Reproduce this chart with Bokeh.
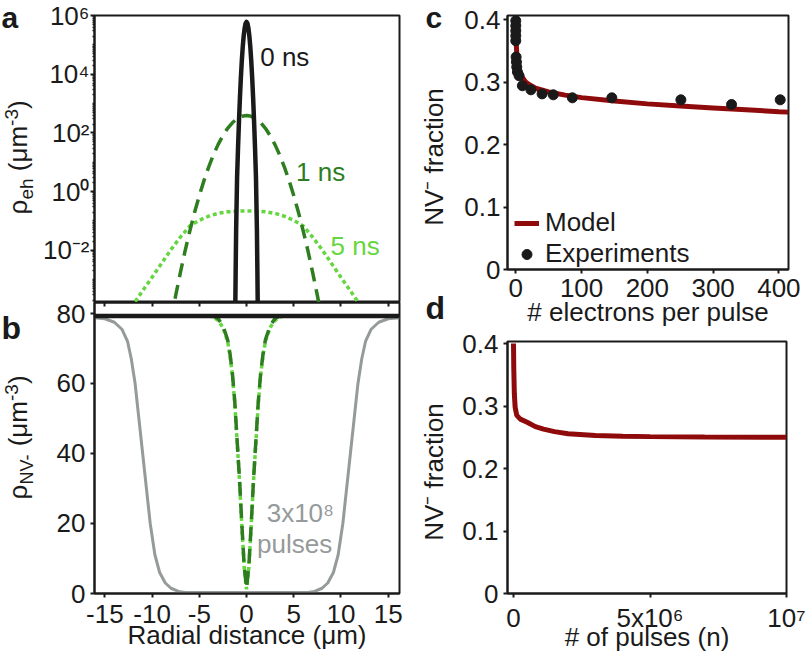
import math
from bokeh.plotting import figure
from bokeh.models import Range1d, FixedTicker, Label, Legend, LegendItem, LinearAxis
from bokeh.layouts import row, column
from bokeh.embed import file_html
from bokeh.resources import INLINE
from bokeh.core.properties import value

FONT = "Liberation Sans"
INK = "#1a1a1a"
DARK_GREEN = "#2e7d1f"
LIGHT_GREEN = "#66d640"
GREY = "#959a9a"
RED = "#8f0b0b"
PAGE_H = 656

# ---------------- data ----------------
# panel a : electron-hole density (log scale)
A_X_0NS = [-1.3, -1.2, -1.15, -1.1, -1.0, -0.9, -0.8, -0.7, -0.6, -0.5, -0.4, -0.3, -0.2, -0.1, 0.0,
           0.1, 0.2, 0.3, 0.4, 0.5, 0.6, 0.7, 0.8, 0.9, 1.0, 1.1, 1.15, 1.2, 1.3]
A_Y_0NS = [1.0e-7, 5.0e-5, 2.0e-3, 0.05, 3.02, 30.7, 244, 1.52e3, 7.45e3, 2.85e4, 8.55e4, 2.01e5, 3.70e5, 5.33e5, 6.03e5,
           5.33e5, 3.70e5, 2.01e5, 8.55e4, 2.85e4, 7.45e3, 1.52e3, 244, 30.7, 3.02, 0.05, 2.0e-3, 5.0e-5, 1.0e-7]
A_X_1NS = [-8.0, -7.5, -7.0, -6.5, -6.0, -5.5, -5.0, -4.5, -4.0, -3.5, -3.0, -2.5, -2.0, -1.5, -1.0, -0.5, 0.0,
           0.5, 1.0, 1.5, 2.0, 2.5, 3.0, 3.5, 4.0, 4.5, 5.0, 5.5, 6.0, 6.5, 7.0, 7.5, 8.0]
A_Y_1NS = [4.1e-5, 2.9e-4, 1.77e-3, 9.7e-3, 0.046, 0.196, 0.73, 2.41, 7.0, 18.0, 40.6, 81, 143, 221, 303, 366, 389,
           366, 303, 221, 143, 81, 40.6, 18.0, 7.0, 2.41, 0.73, 0.196, 0.046, 9.7e-3, 1.77e-3, 2.9e-4, 4.1e-5]
A_X_5NS = [-13, -12, -11, -10, -9, -8, -7, -6, -5, -4, -3, -2, -1, 0, 1, 2, 3, 4, 5, 6, 7, 8, 9, 10, 11, 12, 13]
A_Y_5NS = [4.47e-5, 1.41e-4, 4.17e-4, 1.20e-3, 3.55e-3, 0.0105, 0.0282, 0.0676, 0.105, 0.145, 0.182, 0.204, 0.214, 0.219,
           0.214, 0.204, 0.182, 0.145, 0.105, 0.0676, 0.0282, 0.0105, 3.55e-3, 1.20e-3, 4.17e-4, 1.41e-4, 4.47e-5]
A_YTICKS = [1e-2, 1.0, 1e2, 1e4, 1e6]
A_YLABELS = ["10\u207b\u00b2", "10\u2070", "10\u00b2", "10\u2074", "10\u2076"]
A_MINOR = [k * 10.0 ** n for n in range(-4, 6) for k in (2, 3, 4, 5, 6, 7, 8, 9)] + [1e-3, 1e-1, 1e1, 1e3, 1e5]

# panel b : NV- density
B_X_0NS = [-16.1, 16.2]
B_Y_0NS = [79.3, 79.3]
B_X_DIP = [-4.0, -3.5, -3.0, -2.5, -2.0, -1.75, -1.5, -1.25, -1.0, -0.75, -0.5, -0.25, 0.0,
           0.25, 0.5, 0.75, 1.0, 1.25, 1.5, 1.75, 2.0, 2.5, 3.0, 3.5, 4.0]
B_Y_1NS = [79.3, 79.2, 78.5, 76.5, 72.5, 68.5, 63.0, 55.0, 44.0, 33.0, 20.0, 8.0, 1.5,
           8.0, 20.0, 33.0, 44.0, 55.0, 63.0, 68.5, 72.5, 76.5, 78.5, 79.2, 79.3]
B_Y_5NS = [79.3, 79.0, 78.0, 76.0, 72.0, 68.0, 62.5, 54.5, 43.5, 32.5, 19.5, 7.5, 1.2,
           7.5, 19.5, 32.5, 43.5, 54.5, 62.5, 68.0, 72.0, 76.0, 78.0, 79.0, 79.3]
B_X_PULSES = [-16.1, -15, -14, -13.2, -12.6, -12.2, -11.8, -11.4, -11, -10.6, -10.2, -9.7, -9.2, -8.6, -8, -7.2, -6.5, -5,
              0, 5, 6.5, 7.2, 8, 8.6, 9.2, 9.7, 10.2, 10.6, 11, 11.4, 11.8, 12.2, 12.6, 13.2, 14, 15, 16.2]
B_Y_PULSES = [78.8, 78.5, 77.5, 75.5, 72, 67, 60, 50, 40, 30, 20, 11, 6, 3, 1.5, 0.6, 0.3, 0.3,
              0.3, 0.3, 0.3, 0.6, 1.5, 3, 6, 11, 20, 30, 40, 50, 60, 67, 72, 75.5, 77.5, 78.5, 78.8]
B_XTICKS = [-15, -10, -5, 0, 5, 10, 15]
B_XLABELS = ["-15", "-10", "-5", "0", "5", "10", "15"]
B_YTICKS = [0, 20, 40, 60, 80]

# panel c : NV- fraction vs electrons per pulse
C_MODEL_X = [0, 0.5, 1, 2, 3, 5, 8, 10, 15, 20, 30, 50, 75, 100, 150, 200, 250, 300, 350, 400, 414]
C_MODEL_Y = [0.405, 0.375, 0.355, 0.337, 0.328, 0.319, 0.311, 0.307, 0.300, 0.296, 0.290, 0.284, 0.279, 0.275,
             0.2695, 0.265, 0.2615, 0.2585, 0.2555, 0.2525, 0.2518]
C_EXP_X = [0, 0, 0, 0, 0, 0.5, 1, 1.5, 2.5, 5, 10, 23, 40, 57, 86, 146, 251, 328, 402]
C_EXP_Y = [0.398, 0.390, 0.382, 0.374, 0.366, 0.340, 0.332, 0.324, 0.316, 0.310, 0.294, 0.2875, 0.281, 0.2795,
           0.2747, 0.2747, 0.2715, 0.264, 0.2715]
C_XTICKS = [0, 100, 200, 300, 400]
FRAC_TICKS = [0, 0.1, 0.2, 0.3, 0.4]
FRAC_LABELS = ["0", "0.1", "0.2", "0.3", "0.4"]

# panel d : NV- fraction vs number of pulses
D_X = [0, 1e4, 3e4, 6e4, 1.2e5, 2.5e5, 5e5, 8e5, 1.1e6, 1.5e6, 2e6, 3e6, 4e6, 5e6, 7e6, 1e7]
D_Y = [0.40, 0.36, 0.32, 0.298, 0.285, 0.279, 0.274, 0.267, 0.263, 0.259, 0.2555, 0.2527, 0.2515, 0.251, 0.2503, 0.250]
D_XTICKS = [0, 5e6, 1e7]
D_XLABELS = ["0", "5x10\u2076", "10\u2077"]

# ---------------- helpers ----------------
ADV = {" ": 278, "(": 333, ")": 333, "\u03bc": 576, "m": 833, "e": 556, "h": 556, "N": 722, "V": 667,
       "-": 333, "3": 556, "\u03c1": 578}
FIX_FLAT = 0.33   # empirical baseline correction (fraction of font size), horizontal text
FIX_ROT = 0.52    # same, for text rotated by 90 degrees


def text_w(s, size):
    return sum(ADV.get(c, 556) for c in s) * size / 1000.0


def new_fig(xr, yr, fw, fh, bl, br, bt, bb, y_type="linear"):
    f = figure(output_backend="svg", toolbar_location=None, x_range=xr, y_range=yr, y_axis_type=y_type,
               frame_width=fw, frame_height=fh, min_border_left=bl, min_border_right=br,
               min_border_top=bt, min_border_bottom=bb)
    f.grid.visible = False
    f.outline_line_color = INK
    f.outline_line_width = 2
    f.outline_line_alpha = 1
    f.background_fill_color = "white"
    f.border_fill_color = "white"
    return f


def strip_fig(w):
    f = figure(output_backend="svg", toolbar_location=None, x_range=Range1d(0, w), y_range=Range1d(0, PAGE_H),
               frame_width=w, frame_height=PAGE_H, min_border=0, x_axis_location=None, y_axis_location=None)
    f.grid.visible = False
    f.outline_line_color = None
    f.background_fill_color = "white"
    f.border_fill_color = "white"
    return f


def style_axis(ax, standoff=4):
    ax.axis_line_color = INK
    ax.axis_line_width = 2
    ax.major_tick_line_color = INK
    ax.major_tick_line_width = 2
    ax.major_tick_in = 0
    ax.major_tick_out = 4
    ax.minor_tick_line_color = None
    ax.major_label_text_font = FONT
    ax.major_label_text_font_size = "26px"
    ax.major_label_text_color = INK
    ax.major_label_standoff = standoff
    ax.axis_label_text_font = FONT
    ax.axis_label_text_font_size = "26px"
    ax.axis_label_text_font_style = "normal"
    ax.axis_label_text_color = INK


def strip_text(f, x0, t, px, py, size=26, rotated=False, align="left", bold=False, color=INK):
    # (px, py): page pixel position of the wanted baseline start; strip starts at page x0
    if rotated:
        px -= FIX_ROT * size
    else:
        py -= FIX_FLAT * size
    f.text(x=[px - x0], y=[PAGE_H - py], text=[t], angle=math.pi / 2 if rotated else 0.0,
           text_font=value(FONT), text_font_size=value(f"{size}px"), text_align=align,
           text_baseline="alphabetic", text_font_style="bold" if bold else "normal", text_color=color)


def stacked_label(f, x0, pieces, base_px, center_py, color=INK):
    total = sum(text_w(t, s) for t, s, _ in pieces)
    py = center_py + total / 2.0
    for t, s, dx in pieces:
        lead = len(t) - len(t.lstrip(" "))
        py -= text_w(" " * lead, s)
        body = t.lstrip(" ")
        strip_text(f, x0, body, base_px + dx, py, size=s, rotated=True, color=color)
        py -= text_w(body, s)


def data_text(fig, t, x, y, color, size="26px"):
    fig.add_layout(Label(x=x, y=y, text=t, text_font=FONT, text_font_size=size, text_color=color,
                         text_align="center", text_baseline="middle"))


# ---------------- left strip (panel letters a, b and y titles) ----------------
LW = 37
sl = strip_fig(LW)
strip_text(sl, 0, "a", 1, 27, size=30, bold=True)
strip_text(sl, 0, "b", 1, 338, size=32, bold=True)
stacked_label(sl, 0, [("\u03c1", 26, 0), ("eh", 19, 5), (" (\u03bcm", 26, 0), ("-3", 19, -10), (")", 26, 0)], 31, 157)
stacked_label(sl, 0, [("\u03c1", 26, 0), ("NV-", 18, 5), (" (\u03bcm", 26, 0), ("-3", 19, -10), (")", 26, 0)], 31, 437)

# ---------------- panel a ----------------
pa = new_fig(Range1d(-16.1, 16.2), Range1d(10 ** -3.78, 1e6), 305, 287, 94 - LW, 5, 15, 0, y_type="log")
pa.xaxis.visible = False
style_axis(pa.yaxis[0], standoff=1)
pa.yaxis.ticker = FixedTicker(ticks=A_YTICKS, minor_ticks=A_MINOR)
pa.yaxis.major_label_overrides = dict(zip(A_YTICKS, A_YLABELS))
pa.yaxis.minor_tick_line_color = INK
pa.yaxis.minor_tick_line_width = 1.5
pa.yaxis.minor_tick_in = 0
pa.yaxis.minor_tick_out = 2

pa.line(A_X_5NS, A_Y_5NS, line_color=LIGHT_GREEN, line_width=3.5, line_dash="4 3")
pa.line(A_X_1NS, A_Y_1NS, line_color=DARK_GREEN, line_width=3.5, line_dash="14 8")
pa.line(A_X_0NS, A_Y_0NS, line_color=INK, line_width=4.5, line_join="round")
data_text(pa, "0 ns", 4.05, 3.9e4, INK)
data_text(pa, "1 ns", 7.85, 4.6, DARK_GREEN)
data_text(pa, "5 ns", 11.5, 0.0141, LIGHT_GREEN)

# ---------------- panel b ----------------
pb = new_fig(Range1d(-16.1, 16.2), Range1d(0, 83.14), 305, 291, 94 - LW, 5, 0, 63)
style_axis(pb.xaxis[0], standoff=7)
style_axis(pb.yaxis[0], standoff=5)
pb.xaxis.ticker = FixedTicker(ticks=B_XTICKS)
pb.xaxis.major_label_overrides = dict(zip(B_XTICKS, B_XLABELS))
pb.xaxis.axis_label = "Radial distance (\u03bcm)"
pb.xaxis.axis_label_standoff = -6
pb.yaxis.ticker = FixedTicker(ticks=B_YTICKS)
top_ax = LinearAxis(ticker=FixedTicker(ticks=B_XTICKS))
style_axis(top_ax, standoff=0)
top_ax.major_tick_in = 4
top_ax.major_tick_out = 0
top_ax.major_label_text_font_size = "0px"
top_ax.major_label_text_color = None
pb.add_layout(top_ax, "above")

pb.line(B_X_PULSES, B_Y_PULSES, line_color=GREY, line_width=3)
pb.line(B_X_DIP, B_Y_5NS, line_color=LIGHT_GREEN, line_width=3.5, line_dash="4 3")
pb.line(B_X_DIP, B_Y_1NS, line_color=DARK_GREEN, line_width=3.5, line_dash="14 8")
pb.line(B_X_0NS, B_Y_0NS, line_color=INK, line_width=4.5)
data_text(pb, "3x10\u2078", 5.7, 22.9, GREY)
data_text(pb, "pulses", 5.1, 14.0, GREY)

# ---------------- middle strip (panel letters c, d and y titles) ----------------
MX0 = 404
MW = 51
sm = strip_fig(MW)
strip_text(sm, MX0, "c", 425, 27, size=30, bold=True)
strip_text(sm, MX0, "d", 425, 318, size=32, bold=True)
strip_text(sm, MX0, "NV\u207b fraction", 447, 156.5, rotated=True, align="center")
strip_text(sm, MX0, "NV\u207b fraction", 447, 471.5, rotated=True, align="center")

# ---------------- panel c ----------------
pc = new_fig(Range1d(-12.6, 414.6), Range1d(0, 0.4064), 281, 254, 505 - MX0 - MW, 26, 15, 65)
style_axis(pc.xaxis[0], standoff=5)
style_axis(pc.yaxis[0], standoff=3)
pc.xaxis.ticker = FixedTicker(ticks=C_XTICKS)
pc.xaxis.axis_label = "# electrons per pulse"
pc.xaxis.axis_label_standoff = -3
pc.yaxis.ticker = FixedTicker(ticks=FRAC_TICKS)
pc.yaxis.major_label_overrides = dict(zip(FRAC_TICKS, FRAC_LABELS))
r_model = pc.line(C_MODEL_X, C_MODEL_Y, line_color=RED, line_width=5)
r_exp = pc.scatter(C_EXP_X, C_EXP_Y, size=10, fill_color=INK, line_color=INK)
leg = Legend(items=[LegendItem(label="Model", renderers=[r_model]),
                    LegendItem(label="Experiments", renderers=[r_exp])],
             location=(7, 0), border_line_alpha=0, background_fill_alpha=0,
             label_text_font=FONT, label_text_font_size="26px", label_text_color=INK,
             glyph_width=25, glyph_height=30, label_height=30, label_standoff=6,
             spacing=0, padding=0, margin=0)
pc.add_layout(leg)

# ---------------- panel d ----------------
pd_ = new_fig(Range1d(-2.2e5, 1e7), Range1d(0, 0.4032), 279, 252, 507 - MX0 - MW, 26, 7, 63)
style_axis(pd_.xaxis[0], standoff=5)
style_axis(pd_.yaxis[0], standoff=5)
pd_.xaxis.ticker = FixedTicker(ticks=D_XTICKS)
pd_.xaxis.major_label_overrides = dict(zip(D_XTICKS, D_XLABELS))
pd_.xaxis.axis_label = "# of pulses (n)"
pd_.xaxis.axis_label_standoff = -14
pd_.yaxis.ticker = FixedTicker(ticks=FRAC_TICKS)
pd_.yaxis.major_label_overrides = dict(zip(FRAC_TICKS, FRAC_LABELS))
pd_.line(D_X, D_Y, line_color=RED, line_width=5)

p = row(sl, column(pa, pb), sm, column(pc, pd_))
open("out.html", "w").write(file_html(p, INLINE))
